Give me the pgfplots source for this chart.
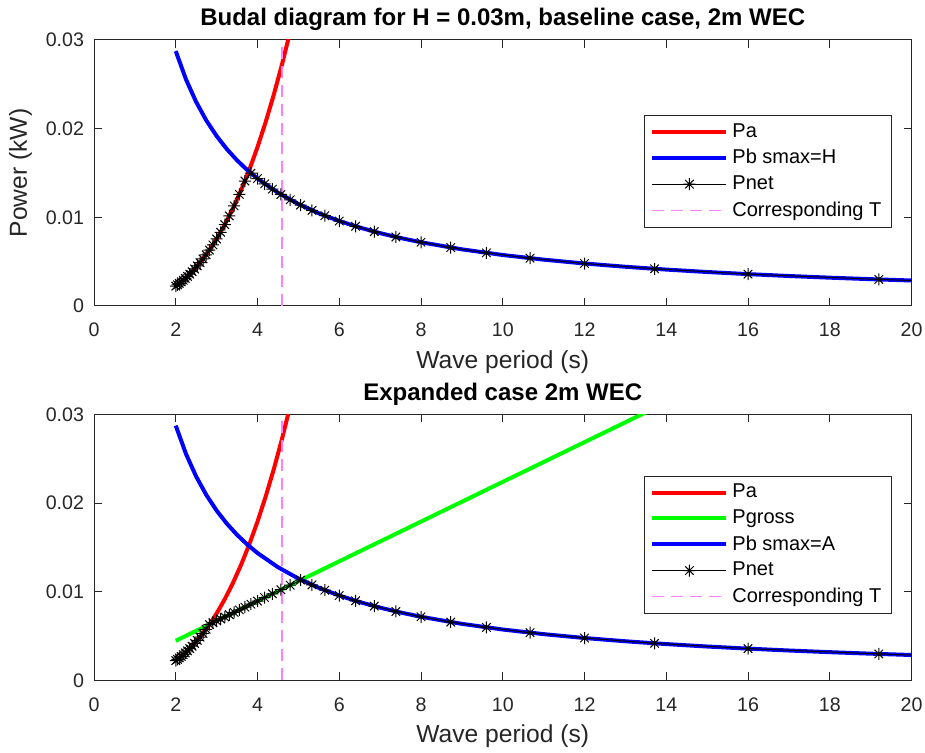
\documentclass[border=0pt]{standalone}
\usepackage{pgfplots}
\pgfplotsset{compat=1.18}
\usepackage{fontspec}
\setmainfont{Liberation Sans}
\definecolor{axgray}{rgb}{0.15,0.15,0.15}
\definecolor{tcol}{rgb}{1,0.5,1}
\definecolor{pgreen}{rgb}{0,1,0}

\pgfdeclareplotmark{mast}{%
  \pgfpathmoveto{\pgfqpoint{0pt}{\pgfplotmarksize}}%
  \pgfpathlineto{\pgfqpoint{0pt}{-\pgfplotmarksize}}%
  \pgfpathmoveto{\pgfqpoint{\pgfplotmarksize}{0pt}}%
  \pgfpathlineto{\pgfqpoint{-\pgfplotmarksize}{0pt}}%
  \pgfpathmoveto{\pgfqpoint{0.7071\pgfplotmarksize}{0.7071\pgfplotmarksize}}%
  \pgfpathlineto{\pgfqpoint{-0.7071\pgfplotmarksize}{-0.7071\pgfplotmarksize}}%
  \pgfpathmoveto{\pgfqpoint{-0.7071\pgfplotmarksize}{0.7071\pgfplotmarksize}}%
  \pgfpathlineto{\pgfqpoint{0.7071\pgfplotmarksize}{-0.7071\pgfplotmarksize}}%
  \pgfusepathqstroke}

\pgfplotstableread{
T P
2.0 0.00224
2.2 0.002981
2.4 0.003871
2.6 0.004921
2.8 0.006147
3.0 0.00756
3.2 0.009175
3.4 0.011005
3.6 0.013064
3.8 0.015364
4.0 0.01792
4.2 0.020745
4.4 0.023852
4.6 0.027254
4.8 0.030966
5.0 0.035
}\pa

\pgfplotstableread{
T P
2 0.02875
2.25 0.025556
2.5 0.023
2.75 0.020909
3 0.019167
3.25 0.017692
3.5 0.016429
3.75 0.015333
4 0.014375
4.5 0.012778
5 0.0115
5.5 0.010455
6 0.009583
6.5 0.008846
7 0.008214
7.5 0.007667
8 0.0071875
9 0.006389
10 0.00575
11 0.005227
12 0.004792
13 0.004423
14 0.004107
15 0.003833
16 0.003594
17 0.003382
18 0.003194
19 0.003026
20 0.002875
}\pb

\pgfplotstableread{
T P
2.0 0.00224
2.0426 0.002386
2.0870 0.002545
2.1333 0.002718
2.1818 0.002908
2.2326 0.003116
2.2857 0.003344
2.3415 0.003594
2.4 0.003871
2.4615 0.004176
2.5263 0.004515
2.5946 0.004891
2.6667 0.005310
2.7429 0.005778
2.8235 0.006303
2.9091 0.006893
3.0 0.00756
3.0968 0.008316
3.2 0.009175
3.3103 0.010158
3.4286 0.011285
3.556 0.012587
3.692 0.014092
3.84 0.014974
4.0 0.014375
4.174 0.013776
4.364 0.013177
4.571 0.012578
4.8 0.011979
5.053 0.011380
5.333 0.010781
5.647 0.010182
6.0 0.009583
6.4 0.008984
6.857 0.008385
7.385 0.007786
8.0 0.007188
8.727 0.006589
9.6 0.005990
10.667 0.005391
12.0 0.004792
13.714 0.004193
16.0 0.003594
19.2 0.002995
}\pnettop

\pgfplotstableread{
T P
2.0 0.00224
2.0426 0.002386
2.0870 0.002545
2.1333 0.002718
2.1818 0.002908
2.2326 0.003116
2.2857 0.003344
2.3415 0.003594
2.4 0.003871
2.4615 0.004176
2.5263 0.004515
2.5946 0.004891
2.6667 0.005310
2.7429 0.005778
2.8235 0.006303
2.9091 0.006516
3.0 0.00672
3.0968 0.006937
3.2 0.007168
3.3103 0.007415
3.4286 0.00768
3.556 0.007964
3.692 0.008271
3.84 0.008602
4.0 0.00896
4.174 0.009349
4.364 0.009775
4.571 0.010240
4.8 0.010752
5.053 0.011318
5.333 0.010781
5.647 0.010182
6.0 0.009583
6.4 0.008984
6.857 0.008385
7.385 0.007786
8.0 0.007188
8.727 0.006589
9.6 0.005990
10.667 0.005391
12.0 0.004792
13.714 0.004193
16.0 0.003594
19.2 0.002995
}\pnetbot

\pgfplotsset{
 budal/.style={
  scale only axis, width=408.75pt, height=133pt,
  xmin=0, xmax=20, ymin=0, ymax=0.03,
  scaled y ticks=false,
  xtick={0,2,...,20}, ytick={0,0.01,0.02,0.03}, yticklabels={0,0.01,0.02,0.03},
  tick align=inside, major tick length=4pt,
  axis line style={axgray, line width=0.5pt},
  every tick/.style={axgray, line width=0.5pt},
  ticklabel style={font=\fontsize{9.8}{11}\selectfont, text=axgray},
  xticklabel style={yshift=-5pt},
  yticklabel style={xshift=-1.5pt},
  /pgf/number format/assume math mode=true,
  label style={font=\fontsize{12.3}{14}\selectfont, text=axgray},
  title style={font=\fontsize{12}{14}\selectfont\bfseries, yshift=-5pt},
  xlabel={Wave period (s)},
  legend cell align=left,
  legend style={font=\fontsize{10}{12}\selectfont, draw=axgray, line width=0.5pt, row sep=0.5pt},
  legend image code/.code={\draw[mark repeat=2,mark phase=2,##1] plot coordinates {(0pt,0pt) (18.5pt,0pt) (37pt,0pt)};},
 },
 netstyle/.style={black, line width=0.5pt, mark=mast, mark size=3pt, mark options={line width=0.5pt}},
}

\begin{document}
\begin{tikzpicture}
\useasboundingbox (0,0) rectangle (462.5pt,376.5pt);
\begin{axis}[budal, at={(47pt,223.5pt)}, anchor=south west,
  title={Budal diagram for H = 0.03m, baseline case, 2m WEC},
  ylabel={Power (kW)},
  legend style={at={(0.976,0.718)}, anchor=north east}]
\addplot[red, line width=2pt] table[x=T,y=P] {\pa};
\addlegendentry{Pa}
\addplot[blue, line width=2pt] table[x=T,y=P] {\pb};
\addlegendentry{Pb smax=H}
\addplot[netstyle] table[x=T,y=P] {\pnettop};
\addlegendentry{Pnet}
\addplot[tcol, line width=0.6pt, dash pattern=on 6pt off 3.5pt] coordinates {(4.6,0) (4.6,0.03)};
\addlegendentry{Corresponding T}
\addplot[black, line width=0.5pt, forget plot] coordinates {(19.2,0.002995) (20,0.002875)};
\end{axis}
\begin{axis}[budal, at={(47pt,36.25pt)}, anchor=south west,
  title={Expanded case 2m WEC},
  legend style={at={(0.976,0.77)}, anchor=north east}]
\addplot[red, line width=2pt] table[x=T,y=P] {\pa};
\addlegendentry{Pa}
\addplot[pgreen, line width=2pt] coordinates {(2,0.00448) (14,0.03136)};
\addlegendentry{Pgross}
\addplot[blue, line width=2pt] table[x=T,y=P] {\pb};
\addlegendentry{Pb smax=A}
\addplot[netstyle] table[x=T,y=P] {\pnetbot};
\addlegendentry{Pnet}
\addplot[tcol, line width=0.6pt, dash pattern=on 6pt off 3.5pt] coordinates {(4.6,0) (4.6,0.03)};
\addlegendentry{Corresponding T}
\addplot[black, line width=0.5pt, forget plot] coordinates {(19.2,0.002995) (20,0.002875)};
\end{axis}
\end{tikzpicture}
\end{document}
